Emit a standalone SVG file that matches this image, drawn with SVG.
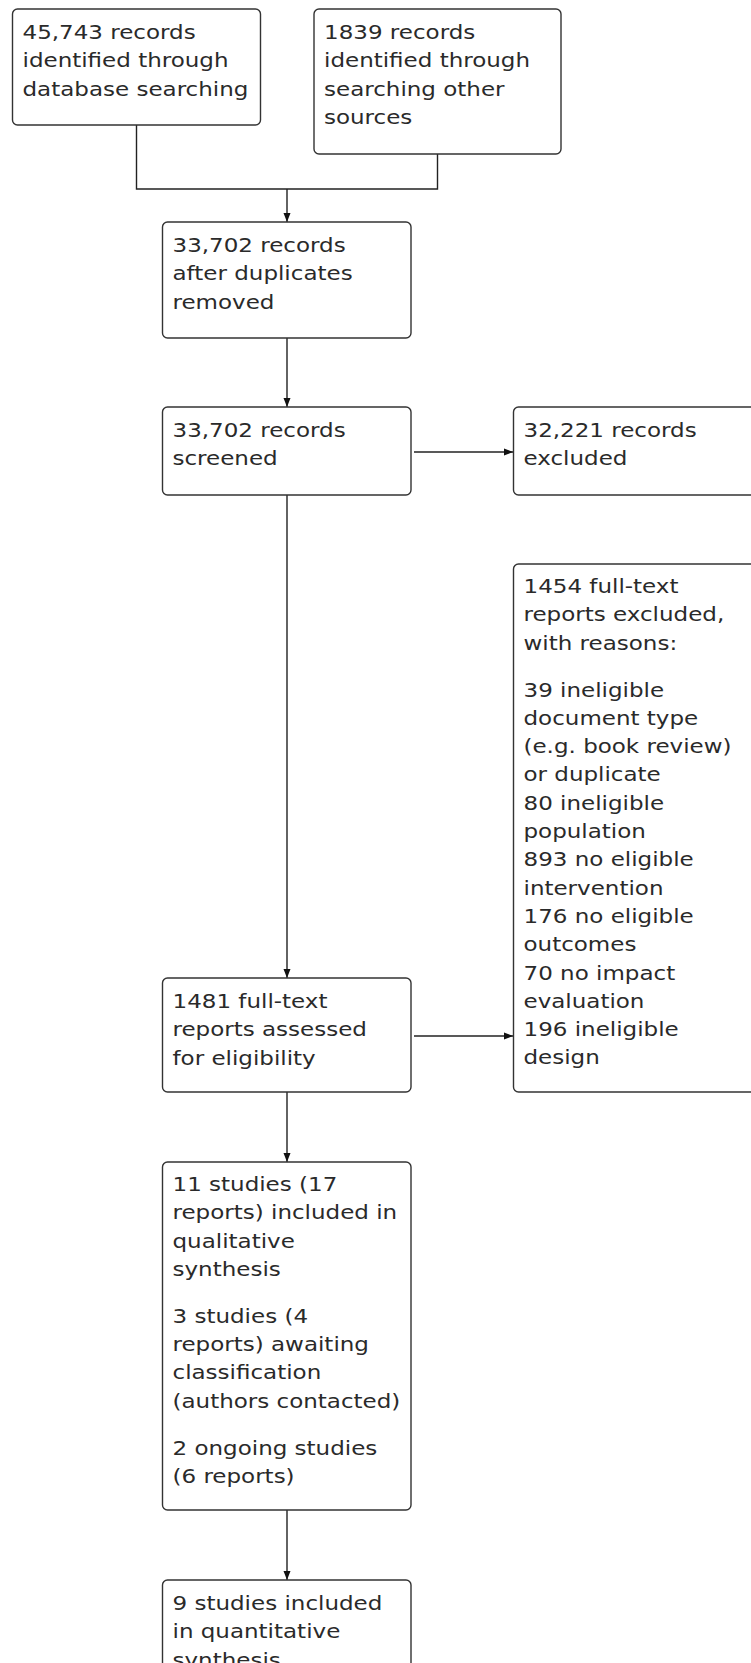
<svg xmlns="http://www.w3.org/2000/svg" width="751" height="1663" viewBox="0 0 751 1663">
<style>
.box{fill:#fff;stroke:#333;stroke-width:1.4}
.t{font-family:"DejaVu Sans",sans-serif;font-size:20px;fill:#2a2a2a}
.c{fill:none;stroke:#222;stroke-width:1.4}
</style>
<defs>
<marker id="ah" markerUnits="userSpaceOnUse" markerWidth="11" markerHeight="9" refX="10" refY="4.5" orient="auto">
<path d="M1,1 L10,4.5 L1,8 z" fill="#111"/>
</marker>
</defs>
<rect width="751" height="1663" fill="#fff"/>
<g id="connectors">
<path class="c" d="M136.5,125 V189 H437.5 V154"/>
<path class="c" d="M287,189 V222" marker-end="url(#ah)"/>
<path class="c" d="M287,338 V407" marker-end="url(#ah)"/>
<path class="c" d="M414,452 H513" marker-end="url(#ah)"/>
<path class="c" d="M287,495 V978" marker-end="url(#ah)"/>
<path class="c" d="M414,1036 H513" marker-end="url(#ah)"/>
<path class="c" d="M287,1092 V1162" marker-end="url(#ah)"/>
<path class="c" d="M287,1510 V1580" marker-end="url(#ah)"/>
</g>
<g id="n1">
<rect class="box" x="12.5" y="9" width="248" height="116" rx="5"/>
<text class="t" transform="translate(22.5 0) scale(1.15 1)"><tspan x="0" y="39">45,743 records</tspan><tspan x="0" y="67.3">identified through</tspan><tspan x="0" y="95.6">database searching</tspan></text>
</g>
<g id="n2">
<rect class="box" x="314" y="9" width="247" height="145" rx="5"/>
<text class="t" transform="translate(324 0) scale(1.15 1)"><tspan x="0" y="39">1839 records</tspan><tspan x="0" y="67.3">identified through</tspan><tspan x="0" y="95.6">searching other</tspan><tspan x="0" y="123.9">sources</tspan></text>
</g>
<g id="n3">
<rect class="box" x="162.5" y="222" width="248.5" height="116" rx="5"/>
<text class="t" transform="translate(172.5 0) scale(1.15 1)"><tspan x="0" y="252">33,702 records</tspan><tspan x="0" y="280.3">after duplicates</tspan><tspan x="0" y="308.6">removed</tspan></text>
</g>
<g id="n4">
<rect class="box" x="162.5" y="407" width="248.5" height="88" rx="5"/>
<text class="t" transform="translate(172.5 0) scale(1.15 1)"><tspan x="0" y="437">33,702 records</tspan><tspan x="0" y="465.3">screened</tspan></text>
</g>
<g id="n5">
<rect class="box" x="513.5" y="407" width="260" height="88" rx="5"/>
<text class="t" transform="translate(523.5 0) scale(1.15 1)"><tspan x="0" y="437">32,221 records</tspan><tspan x="0" y="465.3">excluded</tspan></text>
</g>
<g id="n6">
<rect class="box" x="513.5" y="564" width="260" height="528" rx="5"/>
<text class="t" transform="translate(523.5 0) scale(1.15 1)"><tspan x="0" y="593">1454 full-text</tspan><tspan x="0" y="621.3">reports excluded,</tspan><tspan x="0" y="649.6">with reasons:</tspan><tspan x="0" y="696.6">39 ineligible</tspan><tspan x="0" y="724.9">document type</tspan><tspan x="0" y="753.2">(e.g. book review)</tspan><tspan x="0" y="781.5">or duplicate</tspan><tspan x="0" y="809.8">80 ineligible</tspan><tspan x="0" y="838.1">population</tspan><tspan x="0" y="866.4">893 no eligible</tspan><tspan x="0" y="894.7">intervention</tspan><tspan x="0" y="923">176 no eligible</tspan><tspan x="0" y="951.3">outcomes</tspan><tspan x="0" y="979.6">70 no impact</tspan><tspan x="0" y="1007.9">evaluation</tspan><tspan x="0" y="1036.2">196 ineligible</tspan><tspan x="0" y="1064.5">design</tspan></text>
</g>
<g id="n7">
<rect class="box" x="162.5" y="978" width="248.5" height="114" rx="5"/>
<text class="t" transform="translate(172.5 0) scale(1.15 1)"><tspan x="0" y="1008">1481 full-text</tspan><tspan x="0" y="1036.3">reports assessed</tspan><tspan x="0" y="1064.6">for eligibility</tspan></text>
</g>
<g id="n8">
<rect class="box" x="162.5" y="1162" width="248.5" height="348" rx="5"/>
<text class="t" transform="translate(172.5 0) scale(1.15 1)"><tspan x="0" y="1191">11 studies (17</tspan><tspan x="0" y="1219.3">reports) included in</tspan><tspan x="0" y="1247.6">qualitative</tspan><tspan x="0" y="1275.9">synthesis</tspan><tspan x="0" y="1322.9">3 studies (4</tspan><tspan x="0" y="1351.2">reports) awaiting</tspan><tspan x="0" y="1379.5">classification</tspan><tspan x="0" y="1407.8">(authors contacted)</tspan><tspan x="0" y="1454.8">2 ongoing studies</tspan><tspan x="0" y="1483.1">(6 reports)</tspan></text>
</g>
<g id="n9">
<rect class="box" x="162.5" y="1580" width="248.5" height="120" rx="5"/>
<text class="t" transform="translate(172.5 0) scale(1.15 1)"><tspan x="0" y="1610">9 studies included</tspan><tspan x="0" y="1638.3">in quantitative</tspan><tspan x="0" y="1666.6">synthesis</tspan></text>
</g>
</svg>
